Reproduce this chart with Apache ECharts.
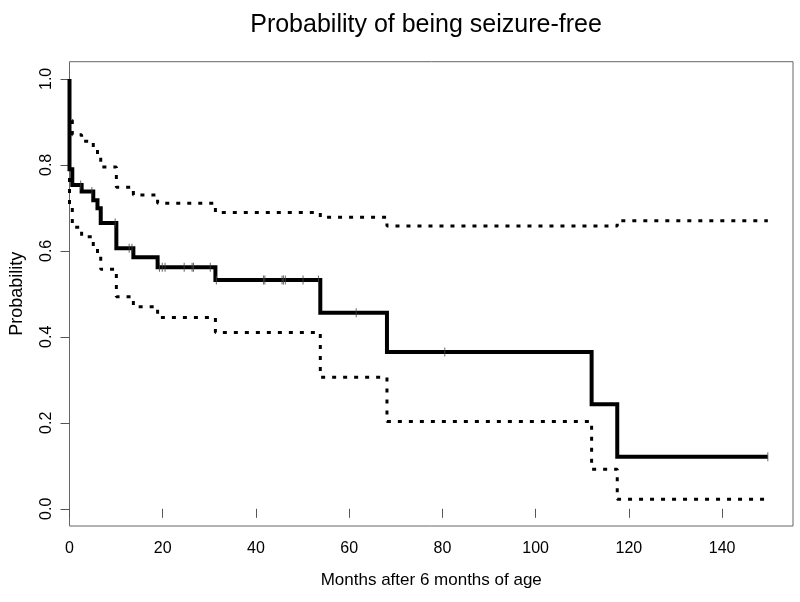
<!DOCTYPE html>
<html>
<head>
<meta charset="utf-8">
<script src="https://cdn.jsdelivr.net/npm/echarts@6/dist/echarts.min.js"></script>
<style>
html,body{margin:0;padding:0;background:#fff;}
#chart{width:800px;height:602px;}
</style>
</head>
<body>
<div id="chart"></div>
<script>
// Kaplan-Meier estimate (step times and survival after each time)
var times    = [0,    0,     0.6,   2.6,   5.1,   6.0,   6.7,   10.05, 13.7,  18.9,  31.3,  53.8,  68.1,  112.0, 117.5, 149.8];
var survival = [1.0,  0.79,  0.753, 0.738, 0.718, 0.699, 0.665, 0.606, 0.585, 0.562, 0.532, 0.456, 0.365, 0.243, 0.121, 0.121];
var upper    = [1.0,  0.904, 0.870, 0.855, 0.841, 0.825, 0.795, 0.748, 0.730, 0.711, 0.689, 0.678, 0.658, 0.658, 0.670, 0.670];
var lower    = [1.0,  0.700, 0.655, 0.633, 0.610, 0.594, 0.557, 0.493, 0.470, 0.445, 0.410, 0.306, 0.203, 0.092, 0.022, 0.022];
// censored observations
var censorTimes = [2.4, 4.8, 9.8, 12.8, 13.4, 19.3, 19.9, 20.5, 24.6, 26.3, 26.6, 30.2, 31.5, 41.6, 41.9, 45.6, 45.9, 46.3, 50.1, 53.4, 61.5, 80.5, 149.8];
var censorSurv  = [0.753, 0.738, 0.665, 0.606, 0.606, 0.562, 0.562, 0.562, 0.562, 0.562, 0.562, 0.562, 0.532, 0.532, 0.532, 0.532, 0.532, 0.532, 0.532, 0.532, 0.456, 0.365, 0.121];
var xTicks = [0, 20, 40, 60, 80, 100, 120, 140];
var yTicks = [0, 0.2, 0.4, 0.6, 0.8, 1.0];

function pairs(a, b) { return a.map(function (v, i) { return [v, b[i]]; }); }

var FONT = '"Liberation Sans", Arial, Helvetica, sans-serif';
var chart = echarts.init(document.getElementById('chart'), null, {renderer: 'canvas'});
var ciStyle = {color: '#000', width: 3, type: [4, 7], cap: 'butt'};

chart.setOption({
  animation: false,
  backgroundColor: '#fff',
  title: {
    text: 'Probability of being seizure-free',
    left: 421, top: 8, textAlign: 'center',
    textStyle: {fontFamily: FONT, fontSize: 25, fontWeight: 'normal', color: '#000'}
  },
  grid: {
    left: 69.5, right: 7, top: 61.7, bottom: 76,
    outerBoundsMode: 'none', containLabel: false,
    show: true, borderColor: '#666', borderWidth: 1, backgroundColor: 'transparent'
  },
  xAxis: {
    type: 'value', min: 0, max: 155.2,
    name: 'Months after 6 months of age', nameLocation: 'middle', nameGap: 46,
    nameTextStyle: {fontFamily: FONT, fontSize: 17, color: '#000'},
    axisLine: {show: false},
    axisTick: {show: true, length: 9, customValues: xTicks, lineStyle: {color: '#555'}},
    axisLabel: {customValues: xTicks, margin: 15, fontFamily: FONT, fontSize: 16, color: '#000',
      formatter: function (v) { return String(v); }},
    splitLine: {show: false}
  },
  yAxis: {
    type: 'value', min: -0.04, max: 1.04,
    name: 'Probability', nameLocation: 'middle', nameGap: 43, nameRotate: 90,
    nameTextStyle: {fontFamily: FONT, fontSize: 18, color: '#000'},
    axisLine: {show: false},
    axisTick: {show: true, length: 9, customValues: yTicks, lineStyle: {color: '#555'}},
    axisLabel: {customValues: yTicks, margin: 15, rotate: 90, fontFamily: FONT, fontSize: 16, color: '#000',
      formatter: function (v) { return v.toFixed(1); }},
    splitLine: {show: false}
  },
  series: [
    {type: 'line', step: 'end', data: pairs(times, upper), symbol: 'none', lineStyle: ciStyle, z: 2},
    {type: 'line', step: 'end', data: pairs(times, lower), symbol: 'none', lineStyle: ciStyle, z: 2},
    {type: 'line', step: 'end', data: pairs(times, survival), symbol: 'none',
      lineStyle: {color: '#000', width: 4, cap: 'butt', join: 'miter'}, z: 3},
    {type: 'scatter', data: pairs(censorTimes, censorSurv), symbol: 'rect', symbolSize: [1, 9],
      itemStyle: {color: '#444'}, z: 4}
  ]
});
</script>
</body>
</html>
